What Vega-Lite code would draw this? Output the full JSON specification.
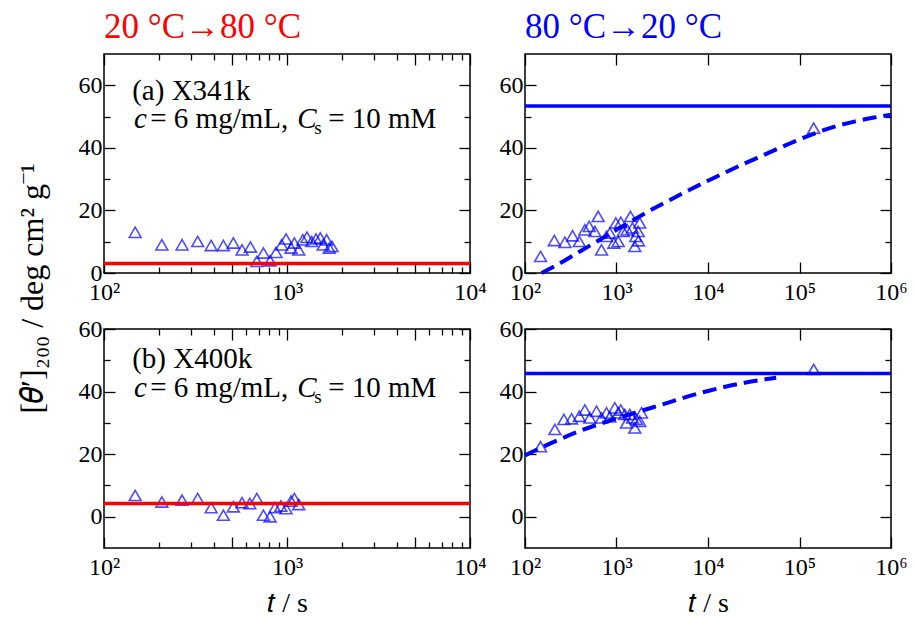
{
 "$schema": "https://vega.github.io/schema/vega-lite/v6.json",
 "background": "white",
 "padding": {"left": 15, "top": 9, "right": 5, "bottom": 0},
 "bounds": "flush",
 "columns": 2,
 "spacing": {"row": 56, "column": 55},
 "datasets": {
  "pts": [
   {"p":"TL","t":148,"v":13.0},{"p":"TL","t":207,"v":9.0},{"p":"TL","t":267,"v":9.0},{"p":"TL","t":325,"v":10.1},{"p":"TL","t":385,"v":8.8},{"p":"TL","t":449,"v":8.8},{"p":"TL","t":509,"v":9.6},{"p":"TL","t":568,"v":7.4},{"p":"TL","t":631,"v":8.3},{"p":"TL","t":684,"v":3.7},{"p":"TL","t":743,"v":6.4},{"p":"TL","t":808,"v":3.9},{"p":"TL","t":871,"v":6.6},{"p":"TL","t":935,"v":9.0},{"p":"TL","t":988,"v":10.9},{"p":"TL","t":1052,"v":8.0},{"p":"TL","t":1097,"v":9.6},{"p":"TL","t":1159,"v":7.4},{"p":"TL","t":1219,"v":10.6},{"p":"TL","t":1286,"v":11.4},{"p":"TL","t":1364,"v":10.1},{"p":"TL","t":1440,"v":10.9},{"p":"TL","t":1520,"v":11.2},{"p":"TL","t":1578,"v":9.0},{"p":"TL","t":1647,"v":10.6},{"p":"TL","t":1702,"v":8.0},{"p":"TL","t":1762,"v":8.5},
   {"p":"TR","t":148,"v":5.3},{"p":"TR","t":209,"v":10.4},{"p":"TR","t":273,"v":9.8},{"p":"TR","t":331,"v":11.9},{"p":"TR","t":392,"v":10.1},{"p":"TR","t":451,"v":13.8},{"p":"TR","t":504,"v":14.9},{"p":"TR","t":580,"v":13.3},{"p":"TR","t":631,"v":18.1},{"p":"TR","t":686,"v":7.4},{"p":"TR","t":778,"v":11.7},{"p":"TR","t":845,"v":12.8},{"p":"TR","t":935,"v":9.6},{"p":"TR","t":983,"v":16.0},{"p":"TR","t":1044,"v":10.1},{"p":"TR","t":1114,"v":16.2},{"p":"TR","t":1183,"v":13.3},{"p":"TR","t":1309,"v":13.8},{"p":"TR","t":1422,"v":18.1},{"p":"TR","t":1494,"v":14.4},{"p":"TR","t":1622,"v":11.7},{"p":"TR","t":1584,"v":8.5},{"p":"TR","t":1726,"v":13.3},{"p":"TR","t":1795,"v":16.0},{"p":"TR","t":1738,"v":10.3},{"p":"TR","t":143000,"v":46.3},
   {"p":"BL","t":148,"v":6.8},{"p":"BL","t":207,"v":4.7},{"p":"BL","t":267,"v":5.3},{"p":"BL","t":325,"v":5.8},{"p":"BL","t":385,"v":2.9},{"p":"BL","t":449,"v":0.5},{"p":"BL","t":509,"v":3.2},{"p":"BL","t":568,"v":4.5},{"p":"BL","t":626,"v":4.2},{"p":"BL","t":684,"v":5.8},{"p":"BL","t":743,"v":0.5},{"p":"BL","t":808,"v":0.0},{"p":"BL","t":860,"v":2.9},{"p":"BL","t":925,"v":3.4},{"p":"BL","t":988,"v":2.6},{"p":"BL","t":1052,"v":5.0},{"p":"BL","t":1097,"v":5.8},{"p":"BL","t":1159,"v":3.9},
   {"p":"BR","t":148,"v":22.4},{"p":"BR","t":212,"v":27.9},{"p":"BR","t":266,"v":31.1},{"p":"BR","t":323,"v":31.3},{"p":"BR","t":392,"v":32.1},{"p":"BR","t":451,"v":34.1},{"p":"BR","t":511,"v":31.6},{"p":"BR","t":605,"v":33.7},{"p":"BR","t":686,"v":31.6},{"p":"BR","t":778,"v":33.2},{"p":"BR","t":845,"v":31.9},{"p":"BR","t":958,"v":34.8},{"p":"BR","t":1044,"v":33.2},{"p":"BR","t":1114,"v":34.1},{"p":"BR","t":1232,"v":32.7},{"p":"BR","t":1285,"v":30.0},{"p":"BR","t":1397,"v":32.7},{"p":"BR","t":1496,"v":31.6},{"p":"BR","t":1585,"v":28.4},{"p":"BR","t":1653,"v":31.1},{"p":"BR","t":1795,"v":30.5},{"p":"BR","t":1875,"v":33.2},{"p":"BR","t":143000,"v":47.1}
  ],
  "fit": [
   {"p":"TR","t":152,"v":0},{"p":"TR","t":251,"v":3.4},{"p":"TR","t":398,"v":6.9},{"p":"TR","t":631,"v":10.3},{"p":"TR","t":1000,"v":13.8},{"p":"TR","t":1585,"v":17.2},{"p":"TR","t":2512,"v":20.5},{"p":"TR","t":3981,"v":23.6},{"p":"TR","t":6310,"v":26.6},{"p":"TR","t":10000,"v":29.5},{"p":"TR","t":15850,"v":32.3},{"p":"TR","t":25120,"v":35.0},{"p":"TR","t":39810,"v":37.6},{"p":"TR","t":63100,"v":40.2},{"p":"TR","t":100000,"v":42.7},{"p":"TR","t":158500,"v":45.0},{"p":"TR","t":251200,"v":46.9},{"p":"TR","t":398100,"v":48.4},{"p":"TR","t":631000,"v":49.6},{"p":"TR","t":1000000,"v":50.6},
   {"p":"BR","t":100,"v":19.6},{"p":"BR","t":158.5,"v":22.4},{"p":"BR","t":251.2,"v":25.0},{"p":"BR","t":398.1,"v":27.4},{"p":"BR","t":631,"v":29.5},{"p":"BR","t":1000,"v":31.4},{"p":"BR","t":1585,"v":33.2},{"p":"BR","t":2512,"v":35.0},{"p":"BR","t":3981,"v":36.8},{"p":"BR","t":6310,"v":38.6},{"p":"BR","t":10000,"v":40.2},{"p":"BR","t":15850,"v":41.6},{"p":"BR","t":25120,"v":42.8},{"p":"BR","t":39810,"v":43.8},{"p":"BR","t":55590,"v":44.4}
  ],
  "lvl": [
   {"p":"TL","t":100,"v":3.0},{"p":"TL","t":10000,"v":3.0},
   {"p":"BL","t":100,"v":4.2},{"p":"BL","t":10000,"v":4.2},
   {"p":"TR","t":100,"v":53.4},{"p":"TR","t":1000000,"v":53.4},
   {"p":"BR","t":100,"v":45.8},{"p":"BR","t":1000000,"v":45.8}
  ]
 },
 "concat": [
  {
   "width": 366, "height": 219,
   "title": {"text": "20 °C→80 °C", "color": "#ff0000", "offset": 8, "frame": "group"},
   "resolve": {"axis": {"x": "independent", "y": "independent"}},
   "layer": [
    {"data": {"name": "pts"}, "transform": [{"filter": "datum.p == 'TL'"}],
     "mark": {"type": "point", "shape": "triangle-up", "filled": false, "color": "#0000ff", "size": 140, "strokeWidth": 1.6},
     "encoding": {
      "x": {"field": "t", "type": "quantitative", "scale": {"type": "log", "domain": [100, 10000]},
            "axis": {"orient": "bottom", "values": [100,500,1000,5000,10000], "labelExpr": "datum.value==100?'10²':datum.value==1000?'10³':datum.value==10000?'10⁴':''", "tickSize": -11, "labelPadding": 18, "title": null}},
      "y": {"field": "v", "type": "quantitative", "scale": {"domain": [0, 70], "nice": false},
            "axis": {"orient": "left", "values": [0,20,40,60], "tickSize": -11, "labelPadding": 13, "title": "[𝜃′]₂₀₀ / deg cm² g⁻¹", "titleX": -72, "titleY": 234, "titleAngle": -90, "titleAlign": "center", "titleBaseline": "middle", "titleFontSize": 32}}
     }},
    {"data": {"name": "lvl"}, "transform": [{"filter": "datum.p == 'TL'"}],
     "mark": {"type": "line", "color": "#ff0000", "strokeWidth": 3.5},
     "encoding": {
      "x": {"field": "t", "type": "quantitative", "axis": {"orient": "top", "values": [100,500,1000,5000,10000], "labels": false, "tickSize": -11, "title": null}},
      "y": {"field": "v", "type": "quantitative", "axis": {"orient": "right", "values": [0,20,40,60], "labels": false, "tickSize": -11, "title": null}}
     }},
    {"data": {"name": "lvl"}, "transform": [{"filter": "datum.p == 'TL'"}],
     "mark": {"type": "line", "opacity": 0},
     "encoding": {
      "x": {"field": "t", "type": "quantitative", "axis": {"orient": "bottom", "values": [200,300,400,600,700,800,900,2000,3000,4000,6000,7000,8000,9000], "labels": false, "tickSize": -6, "title": null}},
      "y": {"field": "v", "type": "quantitative", "axis": {"orient": "left", "values": [10,30,50], "labels": false, "tickSize": -6, "title": null}}
     }},
    {"data": {"name": "lvl"}, "transform": [{"filter": "datum.p == 'TL'"}],
     "mark": {"type": "line", "opacity": 0},
     "encoding": {
      "x": {"field": "t", "type": "quantitative", "axis": {"orient": "top", "values": [200,300,400,600,700,800,900,2000,3000,4000,6000,7000,8000,9000], "labels": false, "tickSize": -6, "title": null}},
      "y": {"field": "v", "type": "quantitative", "axis": {"orient": "right", "values": [10,30,50], "labels": false, "tickSize": -6, "title": null}}
     }},
    {"data": {"values": [{}]}, "mark": {"type": "text", "text": "(a) X341k", "align": "left", "baseline": "alphabetic", "fontSize": 29},
     "encoding": {"x": {"datum": 142.6, "type": "quantitative", "axis": null}, "y": {"datum": 55.4, "type": "quantitative", "axis": null}}},
    {"data": {"values": [{}]}, "mark": {"type": "text", "text": "c", "align": "left", "baseline": "alphabetic", "fontSize": 29, "fontStyle": "italic"},
     "encoding": {"x": {"datum": 145.8, "type": "quantitative", "axis": null}, "y": {"datum": 46.3, "type": "quantitative", "axis": null}}},
    {"data": {"values": [{}]}, "mark": {"type": "text", "text": "= 6 mg/mL,", "align": "left", "baseline": "alphabetic", "fontSize": 29},
     "encoding": {"x": {"datum": 178.9, "type": "quantitative", "axis": null}, "y": {"datum": 46.3, "type": "quantitative", "axis": null}}},
    {"data": {"values": [{}]}, "mark": {"type": "text", "text": "C", "align": "left", "baseline": "alphabetic", "fontSize": 29, "fontStyle": "italic"},
     "encoding": {"x": {"datum": 1137, "type": "quantitative", "axis": null}, "y": {"datum": 46.3, "type": "quantitative", "axis": null}}},
    {"data": {"values": [{}]}, "mark": {"type": "text", "text": "s", "align": "left", "baseline": "alphabetic", "fontSize": 19},
     "encoding": {"x": {"datum": 1408, "type": "quantitative", "axis": null}, "y": {"datum": 44.4, "type": "quantitative", "axis": null}}},
    {"data": {"values": [{}]}, "mark": {"type": "text", "text": "= 10 mM", "align": "left", "baseline": "alphabetic", "fontSize": 29},
     "encoding": {"x": {"datum": 1679, "type": "quantitative", "axis": null}, "y": {"datum": 46.3, "type": "quantitative", "axis": null}}}
   ]
  },
  {
   "width": 366, "height": 219,
   "title": {"text": "80 °C→20 °C", "color": "#0000ff", "offset": 8, "frame": "group"},
   "resolve": {"axis": {"x": "independent", "y": "independent"}},
   "layer": [
    {"data": {"name": "pts"}, "transform": [{"filter": "datum.p == 'TR'"}],
     "mark": {"type": "point", "shape": "triangle-up", "filled": false, "color": "#0000ff", "size": 140, "strokeWidth": 1.6},
     "encoding": {
      "x": {"field": "t", "type": "quantitative", "scale": {"type": "log", "domain": [100, 1000000]},
            "axis": {"orient": "bottom", "values": [100,1000,10000,100000,1000000], "labelExpr": "datum.value==100?'10²':datum.value==1000?'10³':datum.value==10000?'10⁴':datum.value==100000?'10⁵':'10⁶'", "tickSize": -11, "labelPadding": 18, "title": null}},
      "y": {"field": "v", "type": "quantitative", "scale": {"domain": [0, 70], "nice": false},
            "axis": {"orient": "left", "values": [0,20,40,60], "tickSize": -11, "labelPadding": 13, "title": null}}
     }},
    {"data": {"name": "fit"}, "transform": [{"filter": "datum.p == 'TR'"}],
     "mark": {"type": "line", "color": "#0000ff", "strokeWidth": 4, "strokeDash": [14, 7], "interpolate": "monotone"},
     "encoding": {
      "x": {"field": "t", "type": "quantitative", "axis": {"orient": "top", "values": [100,1000,10000,100000,1000000], "labels": false, "tickSize": -11, "title": null}},
      "y": {"field": "v", "type": "quantitative", "axis": {"orient": "right", "values": [0,20,40,60], "labels": false, "tickSize": -11, "title": null}}
     }},
    {"data": {"name": "lvl"}, "transform": [{"filter": "datum.p == 'TR'"}],
     "mark": {"type": "line", "color": "#0000ff", "strokeWidth": 3.5},
     "encoding": {
      "x": {"field": "t", "type": "quantitative", "axis": null},
      "y": {"field": "v", "type": "quantitative", "axis": {"orient": "left", "values": [10,30,50], "labels": false, "tickSize": -6, "title": null}}
     }},
    {"data": {"name": "lvl"}, "transform": [{"filter": "datum.p == 'TR'"}],
     "mark": {"type": "line", "opacity": 0},
     "encoding": {
      "x": {"field": "t", "type": "quantitative", "axis": null},
      "y": {"field": "v", "type": "quantitative", "axis": {"orient": "right", "values": [10,30,50], "labels": false, "tickSize": -6, "title": null}}
     }}
   ]
  },
  {
   "width": 366, "height": 219,
   "resolve": {"axis": {"x": "independent", "y": "independent"}},
   "layer": [
    {"data": {"name": "pts"}, "transform": [{"filter": "datum.p == 'BL'"}],
     "mark": {"type": "point", "shape": "triangle-up", "filled": false, "color": "#0000ff", "size": 140, "strokeWidth": 1.6},
     "encoding": {
      "x": {"field": "t", "type": "quantitative", "scale": {"type": "log", "domain": [100, 10000]},
            "axis": {"orient": "bottom", "values": [100,500,1000,5000,10000], "labelExpr": "datum.value==100?'10²':datum.value==1000?'10³':datum.value==10000?'10⁴':''", "tickSize": -11, "labelPadding": 18, "title": "𝑡 / s", "titlePadding": 10}},
      "y": {"field": "v", "type": "quantitative", "scale": {"domain": [-10, 60], "nice": false},
            "axis": {"orient": "left", "values": [0,20,40,60], "tickSize": -11, "labelPadding": 13, "title": null}}
     }},
    {"data": {"name": "lvl"}, "transform": [{"filter": "datum.p == 'BL'"}],
     "mark": {"type": "line", "color": "#ff0000", "strokeWidth": 3.5},
     "encoding": {
      "x": {"field": "t", "type": "quantitative", "axis": {"orient": "top", "values": [100,500,1000,5000,10000], "labels": false, "tickSize": -11, "title": null}},
      "y": {"field": "v", "type": "quantitative", "axis": {"orient": "right", "values": [0,20,40,60], "labels": false, "tickSize": -11, "title": null}}
     }},
    {"data": {"name": "lvl"}, "transform": [{"filter": "datum.p == 'BL'"}],
     "mark": {"type": "line", "opacity": 0},
     "encoding": {
      "x": {"field": "t", "type": "quantitative", "axis": {"orient": "bottom", "values": [200,300,400,600,700,800,900,2000,3000,4000,6000,7000,8000,9000], "labels": false, "tickSize": -6, "title": null}},
      "y": {"field": "v", "type": "quantitative", "axis": {"orient": "left", "values": [10,30,50], "labels": false, "tickSize": -6, "title": null}}
     }},
    {"data": {"name": "lvl"}, "transform": [{"filter": "datum.p == 'BL'"}],
     "mark": {"type": "line", "opacity": 0},
     "encoding": {
      "x": {"field": "t", "type": "quantitative", "axis": {"orient": "top", "values": [200,300,400,600,700,800,900,2000,3000,4000,6000,7000,8000,9000], "labels": false, "tickSize": -6, "title": null}},
      "y": {"field": "v", "type": "quantitative", "axis": {"orient": "right", "values": [10,30,50], "labels": false, "tickSize": -6, "title": null}}
     }},
    {"data": {"values": [{}]}, "mark": {"type": "text", "text": "(b) X400k", "align": "left", "baseline": "alphabetic", "fontSize": 29},
     "encoding": {"x": {"datum": 142.6, "type": "quantitative", "axis": null}, "y": {"datum": 47.6, "type": "quantitative", "axis": null}}},
    {"data": {"values": [{}]}, "mark": {"type": "text", "text": "c", "align": "left", "baseline": "alphabetic", "fontSize": 29, "fontStyle": "italic"},
     "encoding": {"x": {"datum": 145.8, "type": "quantitative", "axis": null}, "y": {"datum": 38.3, "type": "quantitative", "axis": null}}},
    {"data": {"values": [{}]}, "mark": {"type": "text", "text": "= 6 mg/mL,", "align": "left", "baseline": "alphabetic", "fontSize": 29},
     "encoding": {"x": {"datum": 178.9, "type": "quantitative", "axis": null}, "y": {"datum": 38.3, "type": "quantitative", "axis": null}}},
    {"data": {"values": [{}]}, "mark": {"type": "text", "text": "C", "align": "left", "baseline": "alphabetic", "fontSize": 29, "fontStyle": "italic"},
     "encoding": {"x": {"datum": 1137, "type": "quantitative", "axis": null}, "y": {"datum": 38.3, "type": "quantitative", "axis": null}}},
    {"data": {"values": [{}]}, "mark": {"type": "text", "text": "s", "align": "left", "baseline": "alphabetic", "fontSize": 19},
     "encoding": {"x": {"datum": 1408, "type": "quantitative", "axis": null}, "y": {"datum": 36.4, "type": "quantitative", "axis": null}}},
    {"data": {"values": [{}]}, "mark": {"type": "text", "text": "= 10 mM", "align": "left", "baseline": "alphabetic", "fontSize": 29},
     "encoding": {"x": {"datum": 1679, "type": "quantitative", "axis": null}, "y": {"datum": 38.3, "type": "quantitative", "axis": null}}}
   ]
  },
  {
   "width": 366, "height": 219,
   "resolve": {"axis": {"x": "independent", "y": "independent"}},
   "layer": [
    {"data": {"name": "pts"}, "transform": [{"filter": "datum.p == 'BR'"}],
     "mark": {"type": "point", "shape": "triangle-up", "filled": false, "color": "#0000ff", "size": 140, "strokeWidth": 1.6},
     "encoding": {
      "x": {"field": "t", "type": "quantitative", "scale": {"type": "log", "domain": [100, 1000000]},
            "axis": {"orient": "bottom", "values": [100,1000,10000,100000,1000000], "labelExpr": "datum.value==100?'10²':datum.value==1000?'10³':datum.value==10000?'10⁴':datum.value==100000?'10⁵':'10⁶'", "tickSize": -11, "labelPadding": 18, "title": "𝑡 / s", "titlePadding": 10}},
      "y": {"field": "v", "type": "quantitative", "scale": {"domain": [-10, 60], "nice": false},
            "axis": {"orient": "left", "values": [0,20,40,60], "tickSize": -11, "labelPadding": 13, "title": null}}
     }},
    {"data": {"name": "fit"}, "transform": [{"filter": "datum.p == 'BR'"}],
     "mark": {"type": "line", "color": "#0000ff", "strokeWidth": 4, "strokeDash": [14, 7], "interpolate": "monotone"},
     "encoding": {
      "x": {"field": "t", "type": "quantitative", "axis": {"orient": "top", "values": [100,1000,10000,100000,1000000], "labels": false, "tickSize": -11, "title": null}},
      "y": {"field": "v", "type": "quantitative", "axis": {"orient": "right", "values": [0,20,40,60], "labels": false, "tickSize": -11, "title": null}}
     }},
    {"data": {"name": "lvl"}, "transform": [{"filter": "datum.p == 'BR'"}],
     "mark": {"type": "line", "color": "#0000ff", "strokeWidth": 3.5},
     "encoding": {
      "x": {"field": "t", "type": "quantitative", "axis": null},
      "y": {"field": "v", "type": "quantitative", "axis": {"orient": "left", "values": [10,30,50], "labels": false, "tickSize": -6, "title": null}}
     }},
    {"data": {"name": "lvl"}, "transform": [{"filter": "datum.p == 'BR'"}],
     "mark": {"type": "line", "opacity": 0},
     "encoding": {
      "x": {"field": "t", "type": "quantitative", "axis": null},
      "y": {"field": "v", "type": "quantitative", "axis": {"orient": "right", "values": [10,30,50], "labels": false, "tickSize": -6, "title": null}}
     }}
   ]
  }
 ],
 "config": {
  "view": {"stroke": "#000000", "strokeWidth": 1.5},
  "font": "Liberation Serif",
  "text": {"font": "Liberation Serif", "color": "#000000"},
  "axis": {"domain": false, "grid": false, "tickColor": "#000000", "tickWidth": 1.3, "labelFont": "Liberation Serif", "labelFontSize": 24, "labelColor": "#000000", "titleFont": "Liberation Serif", "titleFontSize": 28, "titleFontWeight": "normal", "titleColor": "#000000", "labelFlush": false, "labelOverlap": false, "labelBound": false},
  "title": {"font": "Liberation Serif", "fontSize": 35, "fontWeight": "normal", "anchor": "start"}
 }
}
